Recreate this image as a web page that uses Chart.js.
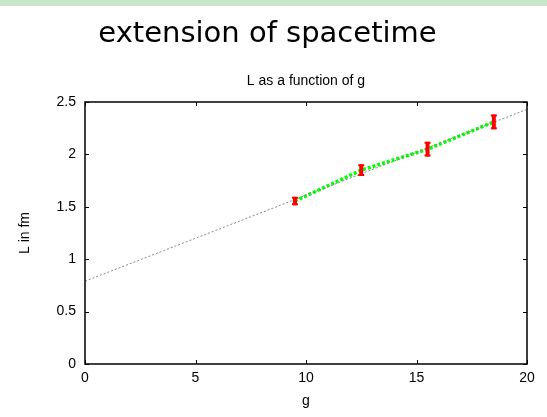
<!DOCTYPE html>
<html>
<head>
<meta charset="utf-8">
<script src="https://cdn.jsdelivr.net/npm/chart.js@4"></script>
<style>
  html, body { margin: 0; padding: 0; background: #fff; }
  #wrap { width: 547px; height: 417px; }
</style>
</head>
<body>
<div id="wrap"><canvas id="chart" width="547" height="417"></canvas></div>
<script>
// measured L vs g with errors
const gValues = [9.5, 12.5, 15.5, 18.5];
const lValues = [1.555, 1.85, 2.05, 2.31];
const lErrors = [0.04, 0.055, 0.07, 0.07];

// linear fit, drawn over the whole range
const fitG = [0, 20];
const fitL = [0.79, 2.43];

const xTicks = [0, 5, 10, 15, 20];
const yTicks = [0, 0.5, 1, 1.5, 2, 2.5];

const TICK_LEN = 4;

// white page with the green band on top
const background = {
  id: 'background',
  beforeDraw(chart) {
    const ctx = chart.ctx;
    ctx.save();
    ctx.fillStyle = '#ffffff';
    ctx.fillRect(0, 0, chart.width, chart.height);
    ctx.fillStyle = '#c9e5c9';
    ctx.fillRect(0, 0, chart.width, 6);
    ctx.restore();
  }
};

// red error bars drawn from the scales
const errorBars = {
  id: 'errorBars',
  afterDatasetsDraw(chart) {
    const ctx = chart.ctx;
    const xs = chart.scales.x, ys = chart.scales.y;
    ctx.save();
    ctx.strokeStyle = '#ff0000';
    gValues.forEach((g, i) => {
      const px = xs.getPixelForValue(g);
      const top = ys.getPixelForValue(lValues[i] + lErrors[i]);
      const bot = ys.getPixelForValue(lValues[i] - lErrors[i]);
      ctx.lineWidth = 4;
      ctx.beginPath();
      ctx.moveTo(px, top);
      ctx.lineTo(px, bot);
      ctx.stroke();
      ctx.lineWidth = 2;
      ctx.beginPath();
      ctx.moveTo(px - 3, top + 1);
      ctx.lineTo(px + 3, top + 1);
      ctx.moveTo(px - 3, bot - 1);
      ctx.lineTo(px + 3, bot - 1);
      ctx.stroke();
    });
    ctx.restore();
  }
};

// box around the plot with inward ticks on all four sides
const frame = {
  id: 'frame',
  afterDraw(chart) {
    const ctx = chart.ctx;
    const a = chart.chartArea;
    const xs = chart.scales.x, ys = chart.scales.y;
    ctx.save();
    ctx.strokeStyle = '#000';
    ctx.lineWidth = 1.5;
    ctx.strokeRect(a.left, a.top, a.right - a.left, a.bottom - a.top);
    ctx.lineWidth = 1;
    ctx.beginPath();
    xTicks.forEach(v => {
      const px = Math.round(xs.getPixelForValue(v)) + 0.5;
      ctx.moveTo(px, a.bottom);
      ctx.lineTo(px, a.bottom - TICK_LEN);
      ctx.moveTo(px, a.top);
      ctx.lineTo(px, a.top + TICK_LEN);
    });
    yTicks.forEach(v => {
      const py = Math.round(ys.getPixelForValue(v)) + 0.5;
      ctx.moveTo(a.left, py);
      ctx.lineTo(a.left + TICK_LEN, py);
      ctx.moveTo(a.right, py);
      ctx.lineTo(a.right - TICK_LEN, py);
    });
    ctx.stroke();
    ctx.restore();
  }
};

const tickFont = { family: 'Liberation Sans, Arial, sans-serif', size: 14 };

new Chart(document.getElementById('chart'), {
  type: 'scatter',
  data: {
    datasets: [
      {
        type: 'line',
        label: 'fit',
        data: fitG.map((g, i) => ({ x: g, y: fitL[i] })),
        borderColor: '#888888',
        borderWidth: 1,
        borderDash: [2, 2],
        pointRadius: 0,
        fill: false
      },
      {
        type: 'line',
        label: 'L',
        data: gValues.map((g, i) => ({ x: g, y: lValues[i] })),
        borderColor: '#00ff00',
        borderWidth: 3.5,
        borderDash: [3, 2],
        pointRadius: 0,
        fill: false
      }
    ]
  },
  options: {
    responsive: false,
    animation: false,
    layout: { padding: { top: 0, left: 8, right: 20, bottom: 6 } },
    plugins: {
      legend: { display: false },
      tooltip: { enabled: false },
      title: {
        display: true,
        text: 'extension of spacetime',
        color: '#000',
        font: { family: 'DejaVu Sans', size: 29, weight: 'normal', lineHeight: 1.2 },
        padding: { top: 17, bottom: 20.8 }
      },
      subtitle: {
        display: true,
        text: 'L as a function of g',
        color: '#000',
        fullSize: false,
        font: { family: 'Liberation Sans, Arial, sans-serif', size: 14, lineHeight: 1.2 },
        padding: { top: 0, bottom: 12.6 }
      }
    },
    scales: {
      x: {
        type: 'linear',
        min: 0,
        max: 20,
        afterBuildTicks(s) { s.ticks = xTicks.map(v => ({ value: v })); },
        afterFit(s) { s.height = 417 - 364 - 6; },
        border: { display: false },
        grid: { display: false, drawTicks: false },
        ticks: { color: '#000', font: tickFont, padding: 6, maxRotation: 0, callback: v => String(v) },
        title: {
          display: true,
          text: 'g',
          color: '#000',
          font: tickFont,
          padding: { top: 4, bottom: 1 }
        }
      },
      y: {
        type: 'linear',
        min: 0,
        max: 2.5,
        afterBuildTicks(s) { s.ticks = yTicks.map(v => ({ value: v })); },
        afterFit(s) { s.width = 85 - 8; },
        border: { display: false },
        grid: { display: false, drawTicks: false },
        ticks: { color: '#000', font: tickFont, padding: 9, callback: v => String(v) },
        title: {
          display: true,
          text: 'L in fm',
          color: '#000',
          font: tickFont,
          padding: { top: 8.6, bottom: 0 }
        }
      }
    }
  },
  plugins: [background, errorBars, frame]
});
</script>
</body>
</html>
